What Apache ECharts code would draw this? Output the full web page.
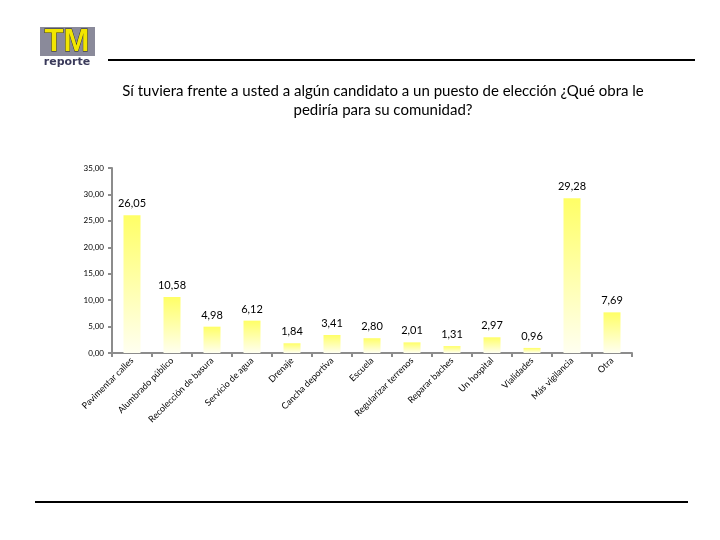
<!DOCTYPE html>
<html><head><meta charset="utf-8">
<script src="https://cdn.jsdelivr.net/npm/echarts@6/dist/echarts.min.js"></script>
<style>html,body{margin:0;padding:0;background:#fff}#c{width:720px;height:540px}</style>
</head><body><div id="c"></div>
<script>
const categories = ["Pavimentar calles","Alumbrado público","Recolección de basura","Servicio de agua","Drenaje","Cancha deportiva","Escuela","Regularizar terrenos","Reparar baches","Un hospital","Vialidades","Más vigilancia","Otra"];
const values = [26.05,10.58,4.98,6.12,1.84,3.41,2.80,2.01,1.31,2.97,0.96,29.28,7.69];
const yTicks = {min:0,max:35,interval:5};

const chart = echarts.init(document.getElementById('c'));
const fmt = v => v.toFixed(2).replace('.', ',');
chart.setOption({
  backgroundColor:'#fff',
  animation:false,
  title:{
    text:'Sí tuviera frente a usted a algún candidato a un puesto de elección ¿Qué obra le\npediría para su comunidad?',
    left:378, top:77, textAlign:'center',
    textStyle:{fontFamily:'Lato',fontSize:15,fontWeight:'normal',color:'#000',lineHeight:19}
  },
  grid:{left:112,right:88,top:168,bottom:187},
  xAxis:{
    type:'category', data:categories,
    axisLine:{lineStyle:{color:'#8c8c8c',width:2}},
    axisTick:{show:true,length:4,lineStyle:{color:'#8c8c8c',width:2}},
    axisLabel:{interval:0,rotate:45,fontSize:9,fontFamily:'Lato',color:'#000',margin:6}
  },
  yAxis:{
    type:'value', min:yTicks.min, max:yTicks.max, interval:yTicks.interval,
    axisLine:{show:true,lineStyle:{color:'#8c8c8c',width:2}},
    axisTick:{show:true,length:4,lineStyle:{color:'#8c8c8c',width:2}},
    splitLine:{show:false},
    axisLabel:{formatter:fmt,fontSize:8,fontFamily:'Lato',color:'#000',margin:8}
  },
  series:[{
    type:'bar', data:values, barWidth:17,
    itemStyle:{color:{type:'linear',x:0,y:0,x2:0,y2:1,colorStops:[{offset:0,color:'#ffff66'},{offset:1,color:'#fffff0'}]}},
    label:{show:true,position:'top',distance:6,formatter:p=>fmt(p.value),fontSize:11,fontFamily:'Lato',color:'#000'}
  }],
  graphic:[
    {type:'rect',shape:{x:40,y:27,width:55,height:29},style:{fill:'#8a8a9a'}},
    {type:'text',x:67,y:42,style:{text:'TM',fontSize:31,fontWeight:'bold',fontFamily:'Liberation Sans Narrow, Liberation Sans',fill:'#f2e600',stroke:'#222',lineWidth:0.8,align:'center',verticalAlign:'middle'}},
    {type:'text',x:67,y:62,style:{text:'reporte',fontSize:11,fontWeight:'bold',fontFamily:'DejaVu Sans',fill:'#3a3a5a',align:'center',verticalAlign:'middle'}},
    {type:'line',shape:{x1:108,y1:60,x2:695,y2:60},style:{stroke:'#000',lineWidth:2}},
    {type:'line',shape:{x1:35,y1:502,x2:688,y2:502},style:{stroke:'#000',lineWidth:2}}
  ]
});
</script></body></html>
